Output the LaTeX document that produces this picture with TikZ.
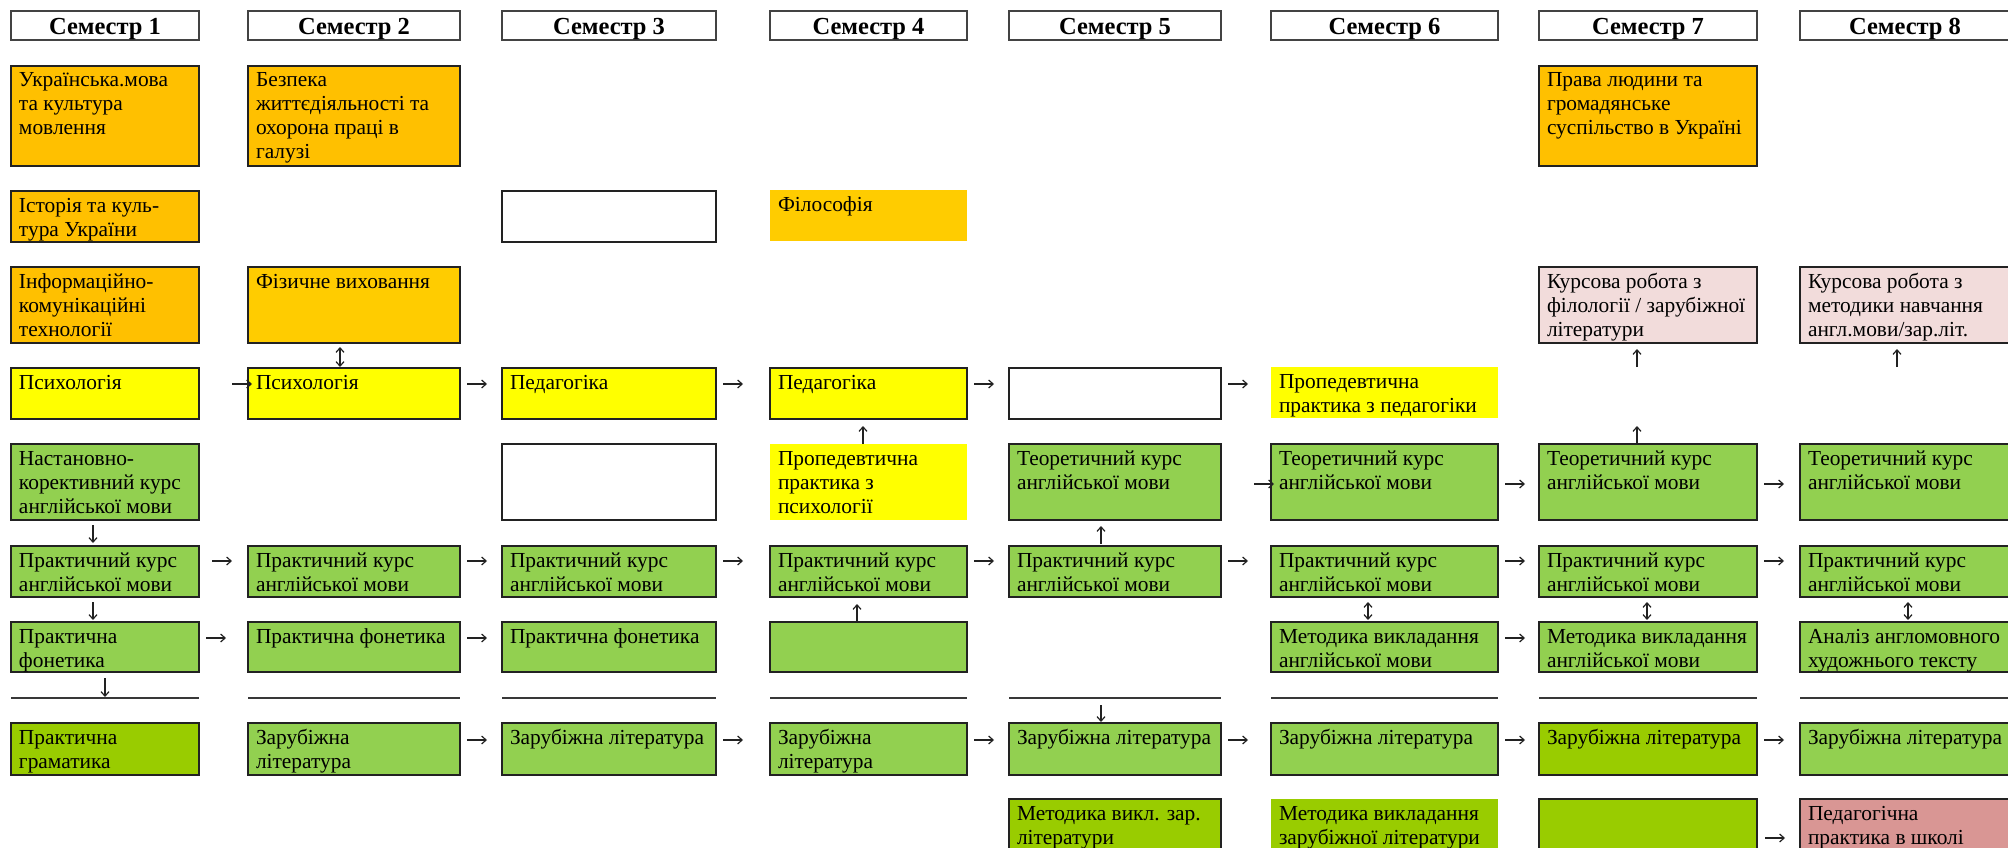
\documentclass[tikz,border=0pt]{standalone}
\usepackage{fontspec}
\setmainfont{Liberation Serif}
\usetikzlibrary{calc,arrows.meta}
\definecolor{orng}{HTML}{FFC000}
\definecolor{gold}{HTML}{FFCC00}
\definecolor{yel}{HTML}{FFFF00}
\definecolor{grn}{HTML}{92D050}
\definecolor{ygrn}{HTML}{99CC00}
\definecolor{pinkl}{HTML}{F2DCDB}
\definecolor{pinkd}{HTML}{D99694}
\definecolor{bordc}{HTML}{222222}
\newcommand\bx[7]{\node[box,#6,anchor=north west] (#1) at (#2,#3) {\parbox[t][#5pt][t]{\dimexpr#4pt-16pt\relax}{\begin{tabular}[t]{@{}l@{}}\rule{0pt}{21pt}#7\end{tabular}}};}
\newcommand\ha[3]{\draw[harr] ($(#1.north east)+(#2,#3)$) -- ++(20,0);}
\begin{document}
\begin{tikzpicture}[x=1pt,y=-1pt,
  box/.style={draw=bordc,line width=2pt,inner xsep=8pt,inner ysep=0pt,outer sep=0pt,
    font=\fontsize{21.4pt}{24pt}\selectfont},
  hdr/.style={draw=bordc!85,line width=1.6pt,fill=white,inner sep=0pt,outer sep=0pt,
    minimum height=29pt,text height=18pt,text depth=0pt,
    font=\fontsize{24.5pt}{26pt}\selectfont\bfseries},
  harr/.style={draw=bordc,line width=1.2pt,-{Straight Barb[length=4.5pt,width=8pt]}},
  varr/.style={draw=bordc,line width=1.2pt,-{Straight Barb[length=4.5pt,width=8pt]}},
  darr/.style={draw=bordc,line width=1.2pt,{Straight Barb[length=4.5pt,width=8pt]}-{Straight Barb[length=4.5pt,width=8pt]}},
  sepl/.style={draw=bordc!90,line width=2pt}]
\useasboundingbox (0,0) rectangle (2008,848);
\clip (0,0) rectangle (2008,848);
% headers
\node[hdr,minimum width=188pt] (s1) at (105,25.5) {Семестр 1};
\node[hdr,minimum width=212pt] (s2) at (354,25.5) {Семестр 2};
\node[hdr,minimum width=214pt] (s3) at (609,25.5) {Семестр 3};
\node[hdr,minimum width=197pt] (s4) at (868.5,25.5) {Семестр 4};
\node[hdr,minimum width=212pt] (s5) at (1115,25.5) {Семестр 5};
\node[hdr,minimum width=227pt] (s6) at (1384.5,25.5) {Семестр 6};
\node[hdr,minimum width=218pt] (s7) at (1648,25.5) {Семестр 7};
\node[hdr,minimum width=210pt] (s8) at (1905,25.5) {Семестр 8};
% row A
\bx{a1}{11}{66}{188}{100}{fill=orng}{Українська.мова\\та культура\\мовлення}
\bx{a2}{248}{66}{212}{100}{fill=orng}{Безпека\\життєдіяльності та\\охорона праці в\\галузі}
\bx{a7}{1539}{66}{218}{100}{fill=orng}{Права людини та\\громадянське\\суспільство в Україні}
% row B
\bx{b1}{11}{191}{188}{51}{fill=orng}{Історія та куль-\\тура України}
\bx{b3}{502}{191}{214}{51}{fill=white}{}
\bx{b4}{770}{190}{197}{51}{draw=none,fill=gold}{Філософія}
% row C
\bx{c1}{11}{267}{188}{76}{fill=orng}{Інформаційно-\\комунікаційні\\технології}
\bx{c2}{248}{267}{212}{76}{fill=gold}{Фізичне виховання}
\bx{c7}{1539}{267}{218}{76}{fill=pinkl}{Курсова робота з\\філології / зарубіжної\\літератури}
\bx{c8}{1800}{267}{210}{76}{fill=pinkl}{Курсова робота з\\методики навчання\\англ.мови/зар.літ.}
% row D
\bx{d1}{11}{368}{188}{51}{fill=yel}{Психологія}
\bx{d2}{248}{368}{212}{51}{fill=yel}{Психологія}
\bx{d3}{502}{368}{214}{51}{fill=yel}{Педагогіка}
\bx{d4}{770}{368}{197}{51}{fill=yel}{Педагогіка}
\bx{d5}{1009}{368}{212}{51}{fill=white}{}
\bx{d6}{1271}{367}{227}{51}{draw=none,fill=yel}{Пропедевтична\\практика з педагогіки}
% row E
\bx{e1}{11}{444}{188}{76}{fill=grn}{Настановно-\\корективний курс\\англійської мови}
\bx{e3}{502}{444}{214}{76}{fill=white}{}
\bx{e4}{770}{444}{197}{76}{draw=none,fill=yel}{Пропедевтична\\практика з\\психології}
\bx{e5}{1009}{444}{212}{76}{fill=grn}{Теоретичний курс\\англійської мови}
\bx{e6}{1271}{444}{227}{76}{fill=grn}{Теоретичний курс\\англійської мови}
\bx{e7}{1539}{444}{218}{76}{fill=grn}{Теоретичний курс\\англійської мови}
\bx{e8}{1800}{444}{210}{76}{fill=grn}{Теоретичний курс\\англійської мови}
% row F
\bx{f1}{11}{546}{188}{51}{fill=grn}{Практичний курс\\англійської мови}
\bx{f2}{248}{546}{212}{51}{fill=grn}{Практичний курс\\англійської мови}
\bx{f3}{502}{546}{214}{51}{fill=grn}{Практичний курс\\англійської мови}
\bx{f4}{770}{546}{197}{51}{fill=grn}{Практичний курс\\англійської мови}
\bx{f5}{1009}{546}{212}{51}{fill=grn}{Практичний курс\\англійської мови}
\bx{f6}{1271}{546}{227}{51}{fill=grn}{Практичний курс\\англійської мови}
\bx{f7}{1539}{546}{218}{51}{fill=grn}{Практичний курс\\англійської мови}
\bx{f8}{1800}{546}{210}{51}{fill=grn}{Практичний курс\\англійської мови}
% row G
\bx{g1}{11}{622}{188}{50}{fill=grn}{Практична\\фонетика}
\bx{g2}{248}{622}{212}{50}{fill=grn}{Практична фонетика}
\bx{g3}{502}{622}{214}{50}{fill=grn}{Практична фонетика}
\bx{g4}{770}{622}{197}{50}{fill=grn}{}
\bx{g6}{1271}{622}{227}{50}{fill=grn}{Методика викладання\\англійської мови}
\bx{g7}{1539}{622}{218}{50}{fill=grn}{Методика викладання\\англійської мови}
\bx{g8}{1800}{622}{210}{50}{fill=grn}{Аналіз англомовного\\художнього тексту}
% row H
\bx{h1}{11}{723}{188}{52}{fill=ygrn}{Практична\\граматика}
\bx{h2}{248}{723}{212}{52}{fill=grn}{Зарубіжна\\література}
\bx{h3}{502}{723}{214}{52}{fill=grn}{Зарубіжна література}
\bx{h4}{770}{723}{197}{52}{fill=grn}{Зарубіжна\\література}
\bx{h5}{1009}{723}{212}{52}{fill=grn}{Зарубіжна література}
\bx{h6}{1271}{723}{227}{52}{fill=grn}{Зарубіжна література}
\bx{h7}{1539}{723}{218}{52}{fill=ygrn}{Зарубіжна література}
\bx{h8}{1800}{723}{210}{52}{fill=grn}{Зарубіжна література}
% row I
\bx{i5}{1009}{799}{212}{100}{fill=ygrn}{Методика викл. зар.\\літератури}
\bx{i6}{1271}{799}{227}{100}{draw=none,fill=ygrn}{Методика викладання\\зарубіжної літератури}
\bx{i7}{1539}{799}{218}{100}{fill=ygrn}{}
\bx{i8}{1800}{799}{210}{100}{fill=pinkd}{Педагогічна\\практика в школі}
% separator lines
\foreach \n in {h1,h2,h3,h4,h5,h6,h7,h8}
  \draw[sepl] ($(\n.north west)+(0,-25)$) -- ($(\n.north east)+(0,-25)$);
% horizontal arrows
\ha{d1}{33}{16}\ha{d2}{7}{16}\ha{d3}{7}{16}\ha{d4}{7}{16}\ha{d5}{7}{16}
\ha{e5}{33}{40}\ha{e6}{7}{40}\ha{e7}{7}{40}
\ha{f1}{13}{15}\ha{f2}{7}{15}\ha{f3}{7}{15}\ha{f4}{7}{15}\ha{f5}{7}{15}\ha{f6}{7}{15}\ha{f7}{7}{15}
\ha{g1}{7}{16}\ha{g2}{7}{16}\ha{g6}{7}{16}
\ha{h2}{7}{17}\ha{h3}{7}{17}\ha{h4}{7}{17}\ha{h5}{7}{17}\ha{h6}{7}{17}\ha{h7}{7}{17}
\ha{i7}{8}{39}
% vertical arrows
\draw[varr] ($(e1.south west)+(82,5)$) -- ++(0,18);
\draw[varr] ($(f1.south west)+(82,5)$) -- ++(0,18);
\draw[varr] ($(g1.south west)+(94,6)$) -- ++(0,19);
\draw[darr] ($(c2.south west)+(92,4)$) -- ++(0,20);
\draw[varr] ($(e4.north west)+(93,0)$) -- ++(0,-18);
\draw[varr] ($(g4.north west)+(87,-1)$) -- ++(0,-17);
\draw[varr] ($(f5.north west)+(92,-2)$) -- ++(0,-18);
\draw[varr] ($(h5.north west)+(92,-18)$) -- ++(0,17);
\draw[darr] ($(f6.south west)+(97,5)$) -- ++(0,18);
\draw[darr] ($(f7.south west)+(108,5)$) -- ++(0,18);
\draw[darr] ($(f8.south west)+(108,5)$) -- ++(0,18);
\draw[varr] ($(c7.south west)+(98,24)$) -- ++(0,-18);
\draw[varr] ($(c8.south west)+(97,24)$) -- ++(0,-18);
\draw[varr] ($(e7.north west)+(98,0)$) -- ++(0,-18);
\end{tikzpicture}
\end{document}
